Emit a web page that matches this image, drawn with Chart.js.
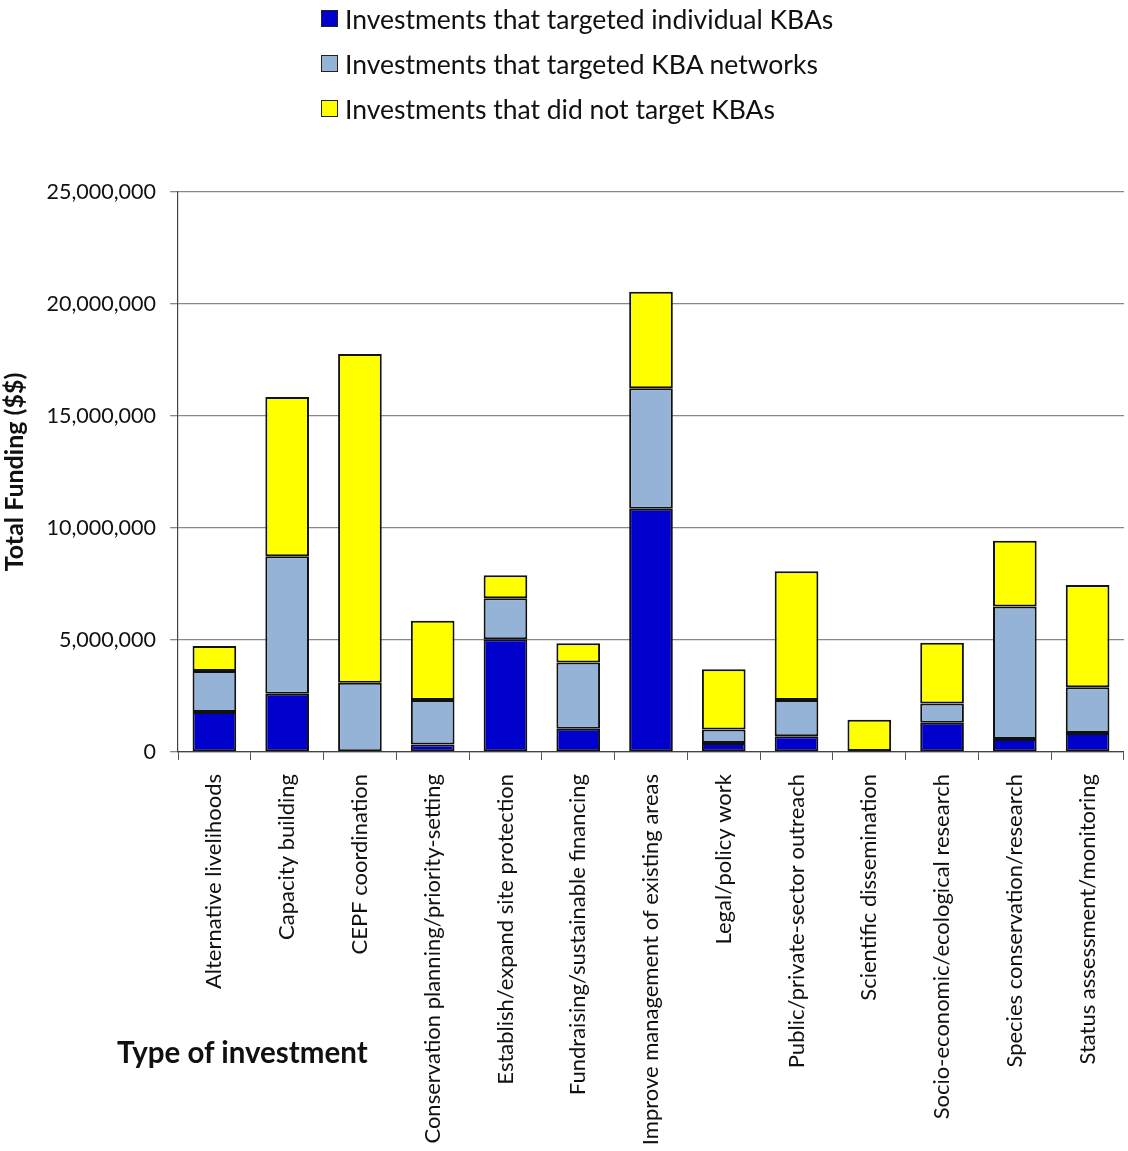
<!DOCTYPE html>
<html>
<head>
<meta charset="utf-8">
<script src="https://cdn.jsdelivr.net/npm/chart.js@4/dist/chart.umd.min.js"></script>
<style>
  body { margin: 0; background: #fff; }
  #wrap { position: relative; width: 1128px; height: 1151px; }
  #legend { position: absolute; left: 321px; top: -4px; font-family: Lato, sans-serif; font-size: 26.5px; color: #111; }
  .row { height: 45px; display: flex; align-items: center; }
  .box { width: 15px; height: 15px; border: 1.5px solid #222; margin-right: 7px; }
  #xtitle { position: absolute; left: 117px; top: 1034px; font-family: Lato, sans-serif; font-weight: bold; font-size: 29.5px; color: #111; }
</style>
</head>
<body>
<div id="wrap">
  <canvas id="chart"></canvas>
  <div id="legend"></div>
  <div id="xtitle">Type of investment</div>
</div>
<script>
// Data (US$)
const categories = [
  "Alternative livelihoods",
  "Capacity building",
  "CEPF coordination",
  "Conservation planning/priority-setting",
  "Establish/expand site protection",
  "Fundraising/sustainable financing",
  "Improve management of existing areas",
  "Legal/policy work",
  "Public/private-sector outreach",
  "Scientific dissemination",
  "Socio-economic/ecological research",
  "Species conservation/research",
  "Status assessment/monitoring",
];
const individualKBAs = [1790000, 2600000, 0, 340000, 5030000, 1040000, 10860000, 400000, 700000, 20000, 1310000, 580000, 850000];
const kbaNetworks = [1830000, 6140000, 3090000, 1980000, 1830000, 2960000, 5380000, 610000, 1620000, 20000, 850000, 5920000, 2040000];
const notTargeted = [1110000, 7110000, 14680000, 3540000, 1030000, 850000, 4310000, 2680000, 5750000, 1400000, 2720000, 2930000, 4570000];

const seriesLabels = [
  "Investments that targeted individual KBAs",
  "Investments that targeted KBA networks",
  "Investments that did not target KBAs",
];
const seriesColors = ["#0000CD", "#95B3D7", "#FFFF00"];

const font = "Lato, sans-serif";

const datasets = [individualKBAs, kbaNetworks, notTargeted].map((d, i) => ({
  label: seriesLabels[i],
  data: d,
  backgroundColor: seriesColors[i],
  borderColor: "#111",
  borderWidth: 2,
  borderSkipped: false,
  barPercentage: 0.6,
  categoryPercentage: 1,
}));

// HTML legend
const legendEl = document.getElementById("legend");
seriesLabels.forEach((label, i) => {
  const row = document.createElement("div");
  row.className = "row";
  row.innerHTML = '<span class="box" style="background:' + seriesColors[i] + '"></span><span>' + label + "</span>";
  legendEl.appendChild(row);
});

new Chart(document.getElementById("chart"), {
  type: "bar",
  data: { labels: categories, datasets: datasets },
  options: {
    responsive: true,
    maintainAspectRatio: false,
    animation: false,
    layout: { padding: { top: 192, right: 0, left: 0, bottom: 0 } },
    plugins: {
      legend: { display: false },
      tooltip: { enabled: false },
    },
    scales: {
      x: {
        stacked: true,
        offset: true,
        grid: { drawOnChartArea: false, tickLength: 8, color: "#555" },
        border: { color: "#444", width: 1.2 },
        ticks: {
          color: "#111",
          font: { family: font, size: 22 },
          minRotation: 90,
          maxRotation: 90,
          padding: 14,
          autoSkip: false,
        },
        afterFit: (scale) => { scale.height = 399; },
      },
      y: {
        stacked: true,
        min: 0,
        max: 25000000,
        grid: { color: "#888", tickLength: 8, lineWidth: 1.3 },
        border: { color: "#444", width: 1.2 },
        ticks: {
          stepSize: 5000000,
          color: "#111",
          font: { family: font, size: 21.5 },
          padding: 14,
          callback: (v) => v.toLocaleString("en-US"),
        },
        title: {
          display: true,
          text: "Total Funding ($$)",
          color: "#111",
          font: { family: font, size: 25, weight: "bold" },
          padding: { top: 0, bottom: 2 },
        },
        afterFit: (scale) => { scale.width = 178; },
      },
    },
  },
});
</script>
</body>
</html>
